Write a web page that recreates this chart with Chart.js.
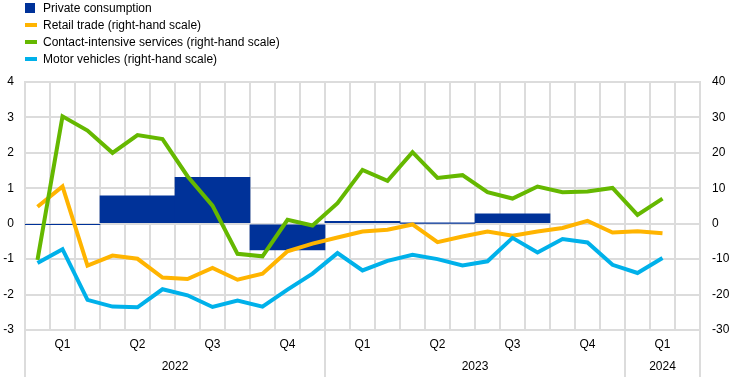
<!DOCTYPE html>
<html>
<head>
<meta charset="utf-8">
<script src="https://cdn.jsdelivr.net/npm/chart.js@4"></script>
<style>
  body { margin: 0; background: #fff; }
  #box { position: relative; width: 742px; height: 377px; }
  #legenda { position: absolute; left: 25px; top: -1px; font: 12px Arial, "Liberation Sans", sans-serif; color: #000; }
  #legenda div { height: 17.2px; display: flex; align-items: center; }
  #legenda span { display: inline-block; width: 12px; height: 4px; margin-right: 6px; }
  #legenda span.q { width: 10px; height: 10px; margin-right: 8px; }
</style>
</head>
<body>
<div id="box">
  <canvas id="grafico"></canvas>
  <div id="legenda">
    <div><span class="q" style="background:#003299"></span>Private consumption</div>
    <div><span style="background:#ffb400"></span>Retail trade (right-hand scale)</div>
    <div><span style="background:#65b800"></span>Contact-intensive services (right-hand scale)</div>
    <div><span style="background:#00b1ea"></span>Motor vehicles (right-hand scale)</div>
  </div>
</div>
<script>
const months = [
  '2022-01', '2022-02', '2022-03', '2022-04', '2022-05', '2022-06',
  '2022-07', '2022-08', '2022-09', '2022-10', '2022-11', '2022-12',
  '2023-01', '2023-02', '2023-03', '2023-04', '2023-05', '2023-06',
  '2023-07', '2023-08', '2023-09', '2023-10', '2023-11', '2023-12',
  '2024-01', '2024-02', '2024-03'
];
const quarters = ['Q1', 'Q2', 'Q3', 'Q4', 'Q1', 'Q2', 'Q3', 'Q4', 'Q1'];
const years = ['2022', '2023', '2024'];

// quarterly, left-hand scale
const consumption = [-0.02, 0.79, 1.31, -0.74, 0.07, 0.01, 0.28, null, null];

// monthly, right-hand scale (Jan 2022 - Feb 2024)
const retail = [4.8, 10.5, -11.8, -9.0, -9.9, -15.2, -15.6, -12.5, -15.8, -14.1, -7.8, -5.6, -3.9,
  -2.2, -1.7, -0.2, -5.2, -3.6, -2.2, -3.4, -2.2, -1.2, 0.8, -2.5, -2.1, -2.7];
const contact = [-10.2, 30.3, 26.3, 20.0, 25.0, 23.9, 13.4, 5.1, -8.5, -9.2, 1.1, -0.5, 5.8,
  15.2, 12.1, 20.2, 12.9, 13.7, 8.9, 7.1, 10.5, 8.9, 9.1, 10.1, 2.5, 7.1];
const motor = [-11.1, -7.2, -21.5, -23.4, -23.6, -18.5, -20.2, -23.5, -21.7, -23.4, -18.6, -14.1, -8.3,
  -13.2, -10.5, -8.8, -10.0, -11.8, -10.6, -4.0, -8.1, -4.3, -5.3, -11.6, -13.9, -9.7];

const griglia = '#dcdcdc';
const font = { family: 'Arial, "Liberation Sans", sans-serif', size: 12 };

// year labels and year separators under the x axis
const anni = {
  id: 'anni',
  afterDraw(chart) {
    const x = chart.scales.x;
    const area = chart.chartArea;
    const c = chart.ctx;
    const half = (x.getPixelForTick(1) - x.getPixelForTick(0)) / 2;
    c.save();
    c.strokeStyle = griglia;
    c.lineWidth = 2;
    c.fillStyle = '#000';
    c.font = '12px ' + font.family;
    c.textAlign = 'center';
    c.textBaseline = 'middle';
    years.forEach(yr => {
      const idx = [];
      months.forEach((m, i) => { if (m.startsWith(yr)) idx.push(i); });
      const x0 = x.getPixelForTick(idx[0]) - half;
      const x1 = x.getPixelForTick(idx[idx.length - 1]) + half;
      c.beginPath();
      c.moveTo(x0, area.bottom); c.lineTo(x0, chart.height);
      c.moveTo(x1, area.bottom); c.lineTo(x1, chart.height);
      c.stroke();
      c.fillText(yr, (x0 + x1) / 2, area.bottom + 37);
    });
    c.restore();
  }
};

const linea = (label, data, colore, ordine) => ({
  type: 'line',
  label: label,
  data: data,
  xAxisID: 'x',
  yAxisID: 'y2',
  borderColor: colore,
  backgroundColor: colore,
  borderWidth: 4,
  pointRadius: 0,
  tension: 0,
  order: ordine
});

new Chart(document.getElementById('grafico'), {
  data: {
    labels: months,
    datasets: [
      {
        type: 'bar',
        label: 'Private consumption',
        data: consumption,
        xAxisID: 'xq',
        yAxisID: 'y',
        backgroundColor: '#003299',
        grouped: false, // una barra per trimestre, larga tutto il trimestre
        barPercentage: 1,
        categoryPercentage: 1,
        order: 4
      },
      linea('Retail trade (right-hand scale)', retail, '#ffb400', 3),
      linea('Contact-intensive services (right-hand scale)', contact, '#65b800', 2),
      linea('Motor vehicles (right-hand scale)', motor, '#00b1ea', 1)
    ]
  },
  options: {
    responsive: true,
    maintainAspectRatio: false,
    animation: false,
    layout: { padding: { top: 82, bottom: 0, left: 0, right: 0 } },
    plugins: {
      legend: { display: false },
      tooltip: { enabled: false }
    },
    scales: {
      x: {
        type: 'category',
        position: 'bottom',
        offset: true,
        grid: { offset: true, color: griglia, lineWidth: 2, drawTicks: false },
        border: { color: griglia, width: 2 },
        ticks: {
          autoSkip: false,
          maxRotation: 0,
          padding: 7,
          color: '#000',
          font: font,
          callback: (v, i) => i % 3 === 1 ? quarters[Math.floor(i / 3)] : ''
        },
        afterFit: s => { s.height = 47; }
      },
      xq: {
        type: 'category',
        labels: quarters,
        offset: true,
        display: false
      },
      y: {
        position: 'left',
        min: -3,
        max: 4,
        ticks: { stepSize: 1, padding: 11, color: '#000', font: font },
        grid: { color: griglia, lineWidth: 2, drawTicks: false },
        border: { color: griglia, width: 2 },
        afterFit: s => { s.width = 25; }
      },
      y2: {
        position: 'right',
        min: -30,
        max: 40,
        ticks: { stepSize: 10, padding: 12, color: '#000', font: font },
        grid: { drawOnChartArea: false, drawTicks: false },
        border: { color: griglia, width: 2 },
        afterFit: s => { s.width = 42; }
      }
    }
  },
  plugins: [anni]
});
</script>
</body>
</html>
